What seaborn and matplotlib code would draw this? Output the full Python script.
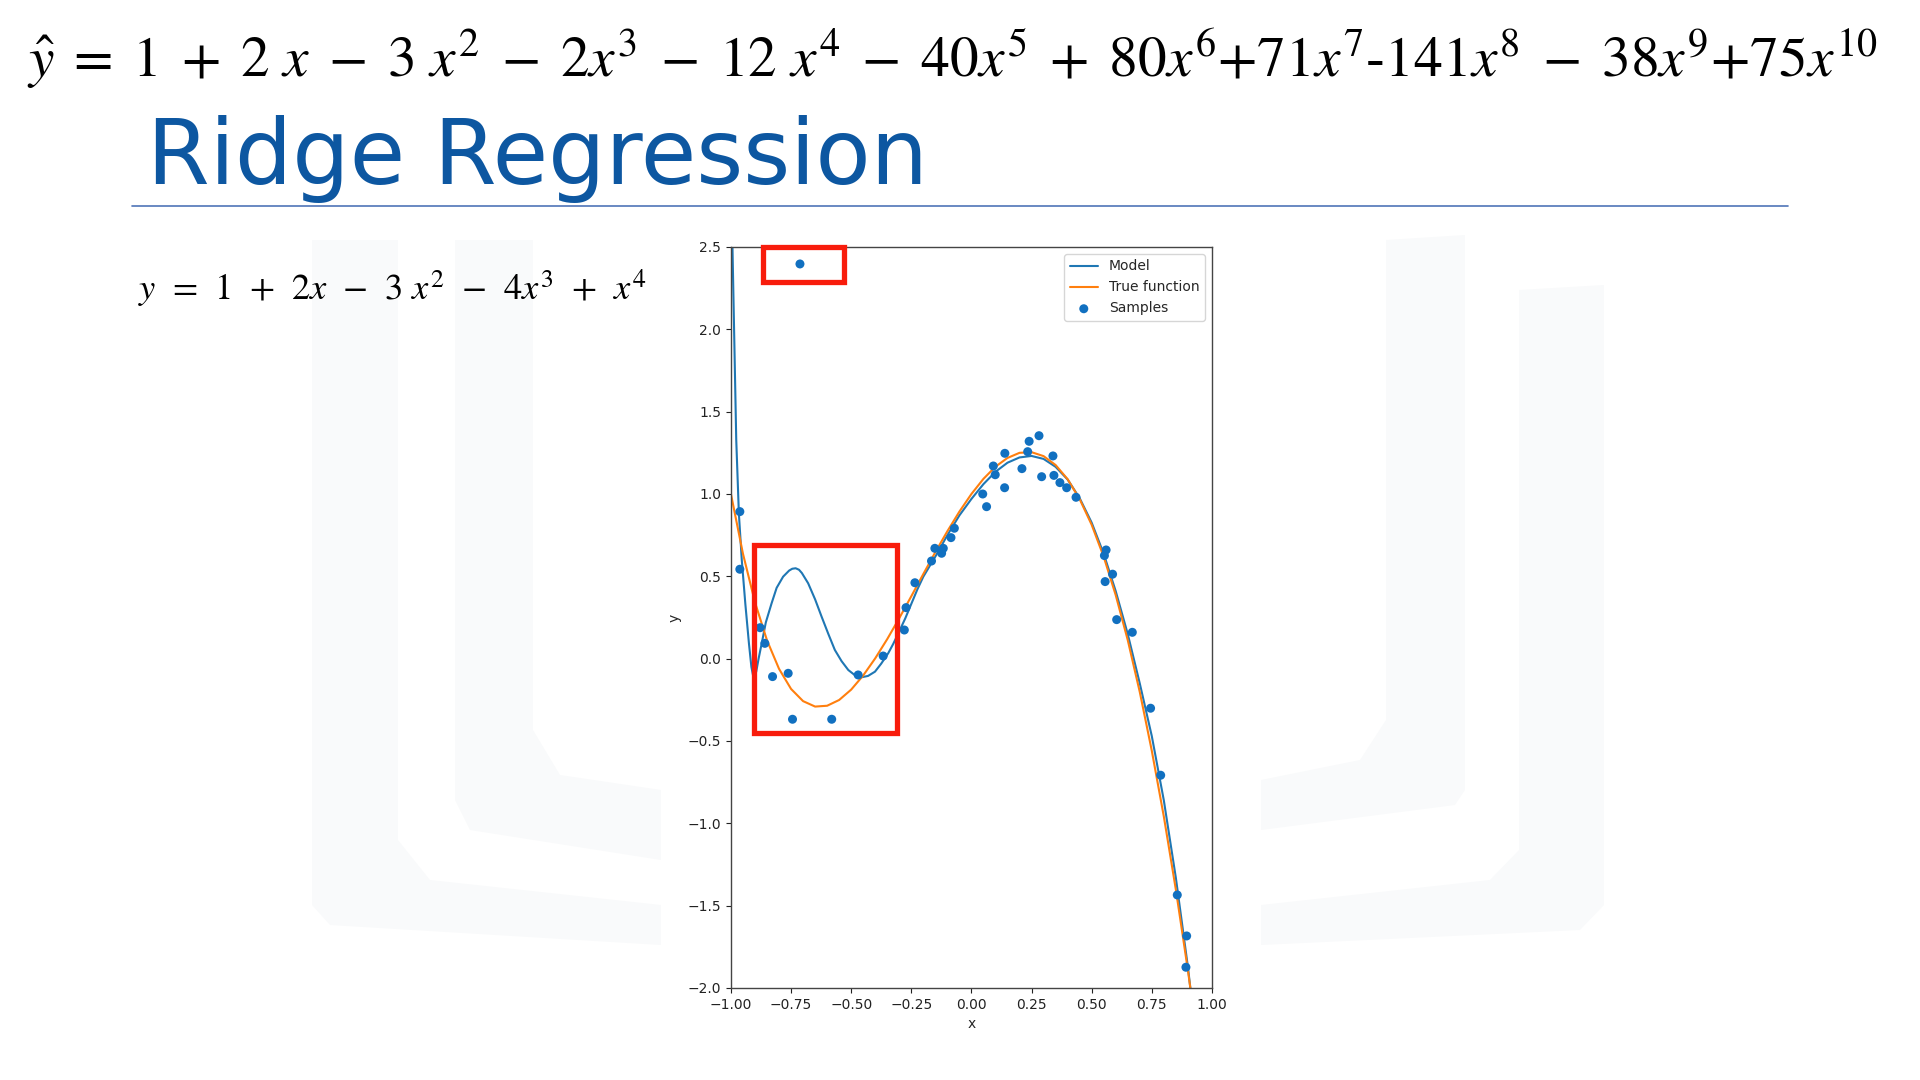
import matplotlib
matplotlib.use("Agg")
import matplotlib.pyplot as plt
from matplotlib.patches import Rectangle, Polygon
import seaborn as sns
import pandas as pd

# samples
sample_x = [-0.713, -0.963, -0.963, -0.879, -0.859, -0.827, -0.762, -0.744, -0.581, -0.471,
            -0.367, -0.279, -0.272, -0.235, -0.166, -0.152, -0.124, -0.117, -0.085, -0.071,
            0.047, 0.063, 0.091, 0.099, 0.138, 0.139, 0.210, 0.234, 0.240, 0.281,
            0.292, 0.339, 0.343, 0.368, 0.396, 0.435, 0.553, 0.560, 0.587, 0.556,
            0.604, 0.669, 0.745, 0.787, 0.856, 0.895, 0.892]
sample_y = [2.397, 0.893, 0.543, 0.188, 0.093, -0.109, -0.089, -0.368, -0.368, -0.099,
            0.016, 0.174, 0.310, 0.461, 0.593, 0.670, 0.640, 0.670, 0.735, 0.792,
            1.000, 0.923, 1.170, 1.117, 1.038, 1.247, 1.154, 1.257, 1.320, 1.354,
            1.105, 1.231, 1.113, 1.069, 1.038, 0.980, 0.626, 0.660, 0.513, 0.468,
            0.237, 0.160, -0.301, -0.708, -1.435, -1.684, -1.874]

# true function curve
true_x = [-1.00, -0.95, -0.90, -0.85, -0.80, -0.75, -0.70, -0.65, -0.60, -0.55,
          -0.50, -0.45, -0.40, -0.35, -0.30, -0.25, -0.20, -0.15, -0.10, -0.05,
          0.00, 0.05, 0.10, 0.15, 0.20, 0.25, 0.30, 0.35, 0.40, 0.45,
          0.50, 0.55, 0.60, 0.65, 0.70, 0.75, 0.80, 0.85, 0.90, 0.95]
true_y = [1.000, 0.637, 0.342, 0.111, -0.062, -0.184, -0.258, -0.291, -0.286, -0.251,
          -0.188, -0.102, 0.002, 0.119, 0.246, 0.379, 0.514, 0.647, 0.774, 0.893,
          1.000, 1.092, 1.166, 1.219, 1.250, 1.254, 1.230, 1.176, 1.090, 0.969,
          0.813, 0.619, 0.386, 0.113, -0.202, -0.559, -0.958, -1.402, -1.890, -2.423]

# fitted model curve
model_x = [-1.000, -0.995, -0.986, -0.978, -0.967, -0.955, -0.940, -0.925, -0.915, -0.907,
           -0.895, -0.885, -0.872, -0.855, -0.831, -0.810, -0.783, -0.758, -0.745, -0.731,
           -0.717, -0.705, -0.679, -0.650, -0.623, -0.595, -0.568, -0.540, -0.512, -0.485,
           -0.457, -0.430, -0.401, -0.375, -0.346, -0.325, -0.304, -0.275, -0.249, -0.225,
           -0.200, -0.150, -0.100, -0.050, 0.000, 0.050, 0.100, 0.150, 0.200, 0.250,
           0.300, 0.350, 0.400, 0.450, 0.500, 0.550, 0.600, 0.650, 0.700, 0.750,
           0.800, 0.850, 0.875, 0.900, 0.920, 0.940]
model_y = [3.10, 2.60, 1.93, 1.33, 0.88, 0.60, 0.33, 0.09, -0.05, -0.11,
           -0.08, 0.00, 0.093, 0.22, 0.336, 0.43, 0.498, 0.535, 0.546, 0.549,
           0.540, 0.52, 0.458, 0.36, 0.255, 0.15, 0.053, -0.015, -0.069, -0.10,
           -0.113, -0.105, -0.079, -0.03, 0.033, 0.09, 0.154, 0.245, 0.336, 0.42,
           0.498, 0.62, 0.75, 0.87, 0.97, 1.06, 1.135, 1.19, 1.222, 1.231,
           1.213, 1.165, 1.088, 0.975, 0.826, 0.637, 0.41, 0.15, -0.15, -0.47,
           -0.86, -1.33, -1.60, -1.87, -2.12, -2.40]

# highlight boxes (x0, x1, y0, y1 in data units)
box_outlier = (-0.868, -0.528, 2.285, 2.500)
box_wiggle = (-0.903, -0.310, -0.453, 0.688)

title_eq = (r"$\hat{y}\;=\;1\;+\;2\ x\;-\;3\ x^{2}\;-\;2x^{3}\;-\;12\ x^{4}\;-\;40x^{5}\;+\;80x^{6}$"
            r"+$71x^{7}$-$141x^{8}\;-\;38x^{9}$+$75x^{10}$")
true_eq = r"$y\;\,=\;\,1\;\,+\;\,2x\;\,-\;\,3\ x^{2}\;\,-\;\,4x^{3}\;\,+\;\,x^{4}$"


def make_slide():
    sns.set_style("ticks")
    plt.rcParams["mathtext.fontset"] = "stix"
    plt.rcParams["font.family"] = ["DejaVu Sans"]

    fig = plt.figure(figsize=(19.2, 10.8), dpi=100)
    fig.patch.set_facecolor("white")

    # faint watermark behind everything
    bg = fig.add_axes([0, 0, 1, 1], zorder=-5)
    bg.set_xlim(0, 1920)
    bg.set_ylim(1080, 0)
    bg.axis("off")
    wm = "#f9fafb"
    shapes = [
        [(312, 240), (398, 240), (398, 840), (430, 880), (661, 905), (661, 945), (330, 925), (312, 905)],
        [(455, 240), (533, 240), (533, 730), (560, 775), (661, 790), (661, 860), (470, 830), (455, 800)],
        [(1604, 285), (1519, 290), (1519, 850), (1490, 880), (1261, 905), (1261, 945), (1580, 930), (1604, 905)],
        [(1465, 235), (1386, 240), (1386, 720), (1360, 760), (1261, 780), (1261, 830), (1455, 805), (1465, 790)],
    ]
    for pts in shapes:
        bg.add_patch(Polygon(pts, closed=True, facecolor=wm, edgecolor="none"))

    # slide texts
    fig.text(0.0141, 0.9296, title_eq, fontsize=41.3, family="STIXGeneral",
             ha="left", va="baseline", color="black")
    fig.text(0.0766, 0.8296, "Ridge Regression", fontsize=65, family="DejaVu Sans",
             ha="left", va="baseline", color="#0d57a1")
    bg.plot([132, 1788], [206, 206], color="#4f74b8", lw=1.2)
    fig.text(0.0719, 0.7213, true_eq, fontsize=26.3, family="STIXGeneral",
             ha="left", va="baseline", color="black")

    # the matplotlib chart
    ax = fig.add_axes([0.3807, 0.0852, 0.2505, 0.6861])
    model_df = pd.DataFrame({"x": model_x, "y": model_y})
    true_df = pd.DataFrame({"x": true_x, "y": true_y})
    samp_df = pd.DataFrame({"x": sample_x, "y": sample_y})

    sns.lineplot(data=model_df, x="x", y="y", ax=ax, color="#1f77b4", lw=1.5,
                 sort=False, label="Model")
    sns.lineplot(data=true_df, x="x", y="y", ax=ax, color="#ff7f0e", lw=1.5,
                 sort=False, label="True function")
    sns.scatterplot(data=samp_df, x="x", y="y", ax=ax, color="#1170c0", s=42,
                    edgecolor="none", label="Samples", zorder=3)

    ax.set_xlim(-1, 1)
    ax.set_ylim(-2, 2.5)
    ax.set_xlabel("x", fontsize=10)
    ax.set_ylabel("y", fontsize=10)
    ax.tick_params(labelsize=10, colors="#222222")
    for sp in ax.spines.values():
        sp.set_color("#444444")
        sp.set_linewidth(1.0)
        sp.set_visible(True)
    ax.legend(loc="upper right", fontsize=10, frameon=True)

    for x0, x1, y0, y1 in [box_outlier, box_wiggle]:
        ax.add_patch(Rectangle((x0, y0), x1 - x0, y1 - y0, fill=False,
                               edgecolor="#f81c0c", lw=3.8, zorder=10, clip_on=False))

    fig.savefig("out.png", dpi=100, facecolor="white")
    print("saved out.png")


if __name__ == "__main__":
    make_slide()
